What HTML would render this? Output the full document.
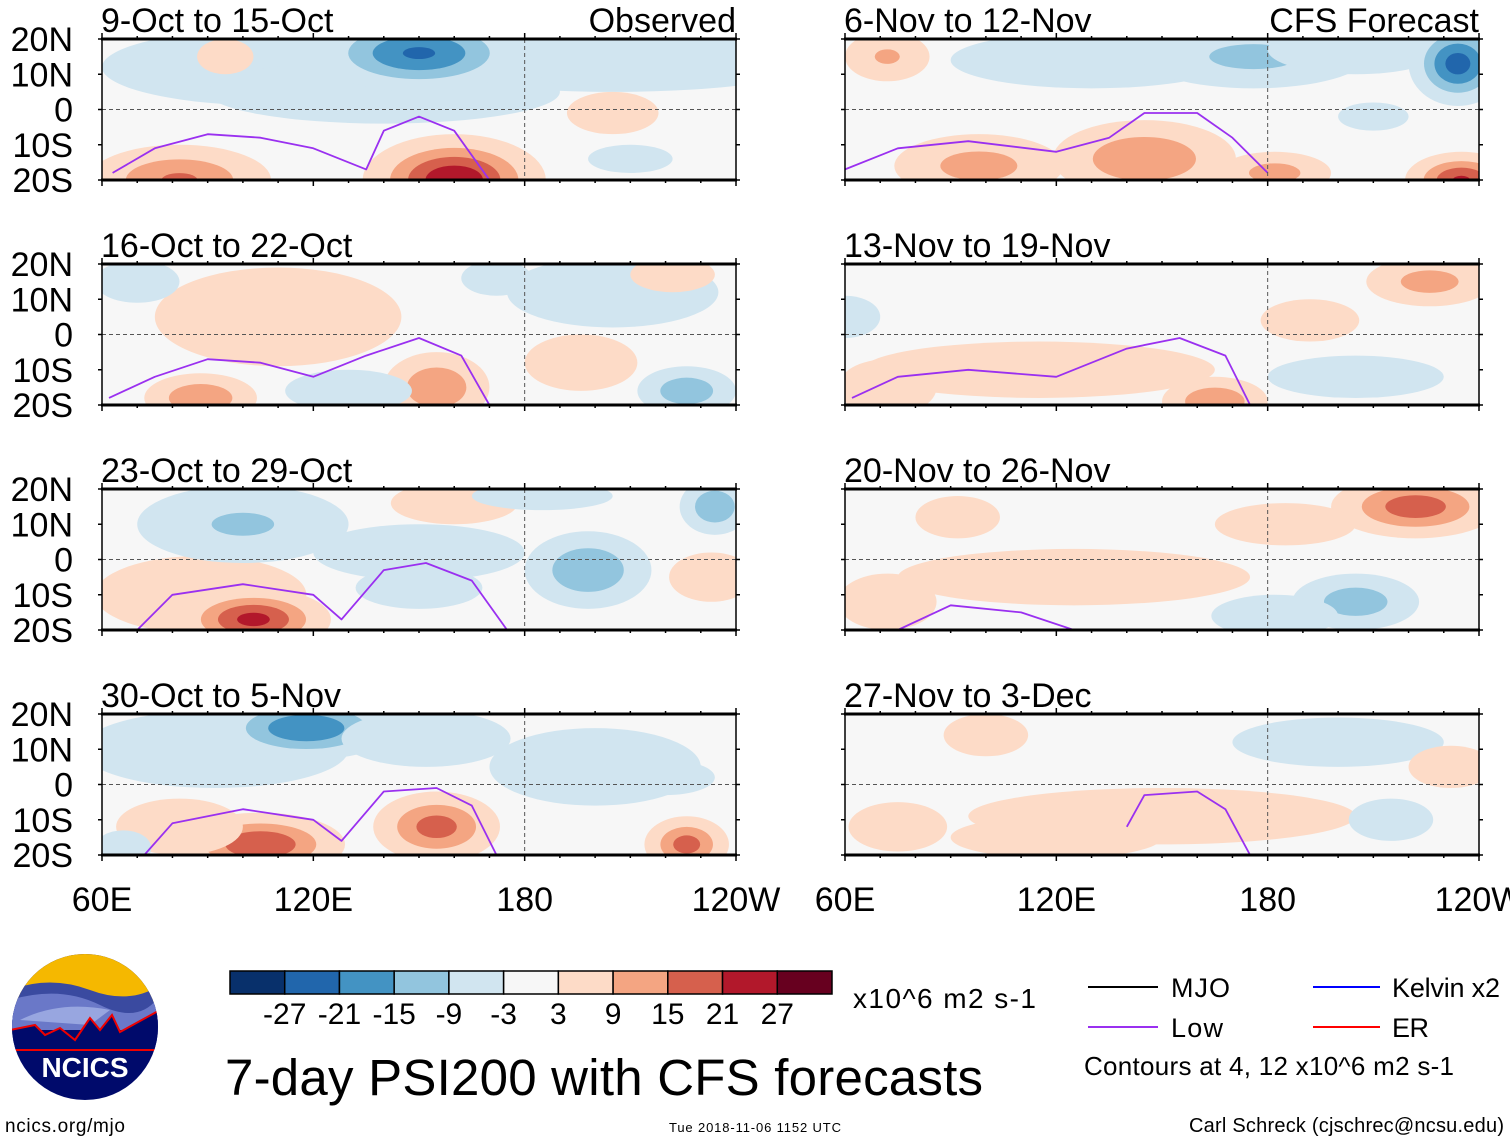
<!DOCTYPE html>
<html><head><meta charset="utf-8"><style>
body{margin:0;background:#fff;}
svg{display:block;font-family:"Liberation Sans",sans-serif;}
</style></head><body>
<svg id="chart" width="1510" height="1142" viewBox="0 0 1510 1142" xmlns="http://www.w3.org/2000/svg">
<defs></defs>
<g id="panels"></g>
<g id="footer">
  <g>
    <clipPath id="logoclip"><circle cx="85" cy="1027" r="73"/></clipPath>
    <g clip-path="url(#logoclip)">
      <rect x="10" y="952" width="150" height="150" fill="#000a6b"/>
      <rect x="10" y="952" width="150" height="50" fill="#f5b800"/>
      <path d="M10 990 Q50 975 90 990 T160 985 L160 1030 L10 1030Z" fill="#3a4aa0"/>
      <path d="M10 1000 Q60 985 100 1005 T160 995 L160 1030 L10 1030Z" fill="#6a78c8"/>
      <path d="M20 1020 Q60 1000 110 1010 L90 1025 Z" fill="#98a6e0"/>
      <path d="M10 1030 L35 1025 L45 1035 L60 1028 L75 1040 L90 1018 L100 1030 L112 1015 L120 1032 L160 1010 L160 1050 L10 1050Z" fill="#000a6b" stroke="#e00" stroke-width="2"/>
    </g>
    <text x="85" y="1077" font-size="28" font-weight="bold" fill="#fff" text-anchor="middle">NCICS</text>
  </g>
  <text x="5" y="1132" font-size="19" textLength="120">ncics.org/mjo</text>
  <g id="colorbar"></g>
  <text x="853" y="1008" font-size="28" textLength="183">x10^6 m2 s-1</text>
  <text x="225" y="1095" font-size="51" textLength="758">7-day PSI200 with CFS forecasts</text>
  <text x="669" y="1132" font-size="13" textLength="172">Tue 2018-11-06 1152 UTC</text>
  <g>
    <line x1="1088" y1="987" x2="1158" y2="987" stroke="#000" stroke-width="2"/>
    <text x="1171" y="997" font-size="27" textLength="59">MJO</text>
    <line x1="1313" y1="987" x2="1380" y2="987" stroke="#0000ff" stroke-width="2"/>
    <text x="1392" y="997" font-size="27" textLength="108">Kelvin x2</text>
    <line x1="1088" y1="1027" x2="1158" y2="1027" stroke="#9a30f0" stroke-width="2"/>
    <text x="1171" y="1037" font-size="27" textLength="52">Low</text>
    <line x1="1313" y1="1027" x2="1380" y2="1027" stroke="#ff0000" stroke-width="2"/>
    <text x="1392" y="1037" font-size="27" textLength="37">ER</text>
    <text x="1084" y="1075" font-size="26" textLength="370">Contours at 4, 12 x10^6 m2 s-1</text>
  </g>
  <text x="1504" y="1132" font-size="20" text-anchor="end" textLength="315">Carl Schreck (cjschrec@ncsu.edu)</text>
</g>
</svg>
<script>
const levels = [-27,-21,-15,-9,-3,3,9,15,21,27];
const levelColors = ['#08306b','#2166ac','#4393c3','#92c5de','#d1e5f0','#f7f7f7','#fddbc7','#f4a582','#d6604d','#b2182b','#67001f'];
const panelTitles = ['9-Oct to 15-Oct','6-Nov to 12-Nov','16-Oct to 22-Oct','13-Nov to 19-Nov','23-Oct to 29-Oct','20-Nov to 26-Nov','30-Oct to 5-Nov','27-Nov to 3-Dec'];
const latTicks = ['20N','10N','0','10S','20S'];
const latVals = [20,10,0,-10,-20];
const lonTicks = ['60E','120E','180','120W'];
const lonVals = [60,120,180,240];
// blobs: [lon, lat, peak value, lon radius(deg), lat radius(deg)]
const blobs0 = [[110,12,-5,50,11],[150,16,-22,30,11],[140,5,-6,50,9],[205,14,-5,60,9],[160,-20,26,26,13],[82,-20,16,26,10],[205,-1,7,13,6],[210,-14,-5,12,4],[95,15,4,8,5]];
const blobs1 = [[176,15,-11,32,9],[234,13,-24,14,12],[205,17,-7,25,7],[130,14,-5,40,8],[145,-14,15,26,11],[98,-16,12,24,9],[235,-20,22,16,8],[182,-18,12,16,6],[72,15,10,12,7],[210,-2,-4,10,4]];
const blobs2 = [[110,5,7,35,14],[88,-18,15,16,7],[155,-15,15,15,10],[196,-8,8,16,8],[205,12,-7,30,10],[226,-16,-14,14,7],[130,-16,-6,18,6],[70,15,-7,12,6],[222,17,8,12,5],[172,16,-4,10,5]];
const blobs3 = [[226,15,12,18,7],[165,-19,15,15,7],[115,-10,7,50,8],[192,4,6,14,6],[205,-12,-6,25,6],[72,-15,7,14,8],[60,5,-4,10,6]];
const blobs4 = [[103,-17,23,22,9],[88,-10,8,30,11],[160,16,8,18,6],[233,-5,8,12,7],[100,10,-10,30,11],[198,-3,-15,18,11],[234,15,-15,10,8],[150,2,-7,30,8],[150,-8,-5,18,6],[185,18,-4,20,4]];
const blobs5 = [[222,15,19,24,9],[92,12,7,12,6],[125,-5,7,50,8],[72,-12,7,14,8],[205,-12,-13,18,8],[182,-16,-6,18,6],[185,10,4,20,6]];
const blobs6 = [[118,16,-21,26,9],[92,10,-9,38,11],[152,13,-8,24,8],[200,5,-6,30,11],[105,-17,21,24,9],[155,-12,18,18,10],[226,-17,18,12,8],[82,-12,8,18,8],[66,-18,-6,8,5],[220,2,-4,14,5]];
const blobs7 = [[150,-9,8,55,8],[100,14,7,12,6],[75,-12,8,14,7],[200,12,-6,30,7],[215,-10,-6,12,6],[232,5,5,12,6],[120,-15,4,30,6]];
const allBlobs = [blobs0,blobs1,blobs2,blobs3,blobs4,blobs5,blobs6,blobs7];
// purple "Low" contour points [lon, lat]
const low0 = [[63,-18],[75,-11],[90,-7],[105,-8],[120,-11],[135,-17],[140,-6],[150,-2],[160,-6],[170,-20]];
const low1 = [[60,-17],[75,-11],[95,-9],[120,-12],[135,-8],[145,-1],[160,-1],[170,-8],[180,-18]];
const low2 = [[62,-18],[75,-12],[90,-7],[105,-8],[120,-12],[135,-6],[150,-1],[162,-6],[170,-20]];
const low3 = [[62,-18],[75,-12],[95,-10],[120,-12],[140,-4],[155,-1],[168,-6],[175,-20]];
const low4 = [[70,-20],[80,-10],[100,-7],[120,-10],[128,-17],[140,-3],[152,-1],[165,-6],[175,-20]];
const low5 = [[75,-20],[90,-13],[110,-15],[125,-20]];
const low6 = [[72,-20],[80,-11],[100,-7],[120,-10],[128,-16],[140,-2],[155,-1],[165,-6],[172,-20]];
const low7 = [[140,-12],[145,-3],[160,-2],[168,-7],[175,-20]];
const allLows = [low0,low1,low2,low3,low4,low5,low6,low7];

const NS='http://www.w3.org/2000/svg';
const W=634, H=141;
const colX=[102,845], rowY=[39,264,489,714];
function mk(t,a,p){const e=document.createElementNS(NS,t);for(const k in a)e.setAttribute(k,a[k]);if(p)p.appendChild(e);return e;}
function colorFor(v){let i=0;while(i<levels.length&&v>levels[i])i++;return levelColors[i];}
const panelsG=document.getElementById('panels');
const defs=document.querySelector('defs');
for(let p=0;p<8;p++){
  const x0=colX[p%2], y0=rowY[Math.floor(p/2)];
  const xs=lon=>x0+(lon-60)/180*W;
  const ys=lat=>y0+(20-lat)/40*H;
  const g=mk('g',{},panelsG);
  
  
  const cp=mk('clipPath',{id:'cp'+p},defs);
  mk('rect',{x:x0,y:y0,width:W,height:H},cp);
  mk('rect',{x:x0,y:y0,width:W,height:H,fill:'#f7f7f7'},g);
  const fg=mk('g',{'clip-path':'url(#cp'+p+')'},g);
  const order=allBlobs[p].slice().sort((a,b)=>(b[3]*b[4])-(a[3]*a[4]));
  for(const b of order){
    const v=b[2], av=Math.abs(v);
    const ths=[3,9,15,21,27].filter(t=>t<av);
    for(const t of ths){
      const s=Math.sqrt(Math.log(av/t)/Math.log(av/3));
      const e=mk('ellipse',{cx:xs(b[0]),cy:ys(b[1]),rx:b[3]*s/180*W,ry:b[4]*s/40*H,fill:colorFor(Math.sign(v)*(t+0.5))},fg);
      
      
    }
  }
  const low=allLows[p];
  let d='';low.forEach((q,i)=>{d+=(i?'L':'M')+xs(q[0]).toFixed(1)+' '+ys(q[1]).toFixed(1);});
  const lp=mk('path',{d:d,fill:'none',stroke:'#9a30f0','stroke-width':1.8,'stroke-linejoin':'round'},fg);
  
  
  mk('line',{x1:x0,y1:ys(0),x2:x0+W,y2:ys(0),stroke:'#555','stroke-width':1,'stroke-dasharray':'4,3'},g);
  mk('line',{x1:xs(180),y1:y0,x2:xs(180),y2:y0+H,stroke:'#555','stroke-width':1,'stroke-dasharray':'4,3'},g);
  mk('rect',{x:x0,y:y0,width:W,height:H,fill:'none',stroke:'#000','stroke-width':1.5},g);
  mk('line',{x1:x0-1,y1:y0,x2:x0+W+1,y2:y0,stroke:'#000','stroke-width':3},g);
  mk('line',{x1:x0-1,y1:y0+H,x2:x0+W+1,y2:y0+H,stroke:'#000','stroke-width':3},g);
  for(let lon=60;lon<=240;lon+=10){
    const len=(lon%60===0)?6:3;
    mk('line',{x1:xs(lon),y1:y0,x2:xs(lon),y2:y0-len,stroke:'#000','stroke-width':1.5},g);
    mk('line',{x1:xs(lon),y1:y0+H,x2:xs(lon),y2:y0+H+len,stroke:'#000','stroke-width':1.5},g);
  }
  latVals.forEach((lat,i)=>{
    mk('line',{x1:x0-4,y1:ys(lat),x2:x0,y2:ys(lat),stroke:'#000','stroke-width':1.5},g);
    mk('line',{x1:x0+W,y1:ys(lat),x2:x0+W+4,y2:ys(lat),stroke:'#000','stroke-width':1.5},g);
    if(p%2===0){
      const t=mk('text',{x:73,y:ys(lat)+12,'font-size':34,'text-anchor':'end'},g);
      t.textContent=latTicks[i];
      
      
    }
  });
  const tt=mk('text',{x:x0-1,y:y0-7,'font-size':34},g);
  tt.textContent=panelTitles[p];
  
  
  if(p<2){
    const rt=mk('text',{x:x0+W,y:y0-7,'font-size':34,'text-anchor':'end'},g);
    rt.textContent=p===0?'Observed':'CFS Forecast';
    
    
  }
  if(p>=6){
    lonVals.forEach((lon,i)=>{
      const t=mk('text',{x:xs(lon),y:911,'font-size':34,'text-anchor':'middle'},g);
      t.textContent=lonTicks[i];
      
      
    });
  }
}
const cb=document.getElementById('colorbar');
const cbx=230, cbw=602/11;
levelColors.forEach((c,i)=>{
  const r=mk('rect',{x:cbx+i*cbw,y:971,width:cbw,height:23,fill:c,stroke:'#000','stroke-width':1.5},cb);
  
  
});
levels.forEach((v,i)=>{
  const t=mk('text',{x:cbx+(i+1)*cbw,y:1024,'font-size':30,'text-anchor':'middle'},cb);
  t.textContent=String(v);
  
  
});
</script>
</body></html>
